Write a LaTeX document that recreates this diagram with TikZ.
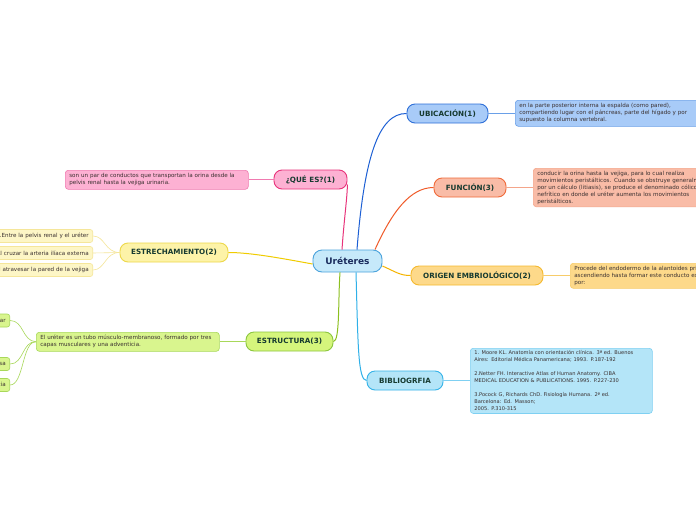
\documentclass[tikz,border=0pt]{standalone}
\usepackage{fontspec}
\setmainfont{DejaVu Sans}
\usetikzlibrary{calc}
\definecolor{headtxt}{HTML}{163A30}
\definecolor{txt}{HTML}{3A3030}
\definecolor{cfill}{HTML}{C6E9FA}\definecolor{cdraw}{HTML}{4BA3DC}\definecolor{ctxt}{HTML}{1B2D5E}
\definecolor{ubfill}{HTML}{A8CBF8}\definecolor{ubdraw}{HTML}{2E6FD8}\definecolor{ubline}{HTML}{1C5FD4}\definecolor{ubbox}{HTML}{6AA0E8}
\definecolor{fufill}{HTML}{F9BCA7}\definecolor{fudraw}{HTML}{F06A3A}\definecolor{fuline}{HTML}{F05A28}\definecolor{fubox}{HTML}{F4A58A}
\definecolor{orfill}{HTML}{FDD98A}\definecolor{ordraw}{HTML}{F5B92E}\definecolor{orline}{HTML}{F5B400}\definecolor{orbox}{HTML}{F7CC6A}
\definecolor{bifill}{HTML}{B4E5F8}\definecolor{bidraw}{HTML}{35B3E8}\definecolor{biline}{HTML}{2FB0E8}\definecolor{bibox}{HTML}{7FD0F2}
\definecolor{qufill}{HTML}{FDB1D3}\definecolor{qudraw}{HTML}{E8337A}\definecolor{quline}{HTML}{E8337A}\definecolor{qubox}{HTML}{F07AB0}
\definecolor{esfill}{HTML}{FDF3A8}\definecolor{esdraw}{HTML}{EDD84A}\definecolor{esline}{HTML}{F0CC00}\definecolor{eschf}{HTML}{FDF6C6}\definecolor{eschd}{HTML}{F5E69A}
\definecolor{stfill}{HTML}{D5F57C}\definecolor{stdraw}{HTML}{8CC63F}\definecolor{stline}{HTML}{8CC020}\definecolor{stbf}{HTML}{D9F58E}\definecolor{stbd}{HTML}{A8D85A}
\tikzset{
  hd/.style={rounded corners=8pt, draw, line width=0.9pt, font=\fontsize{7.2}{8}\selectfont\bfseries, text=headtxt, minimum height=19pt, inner sep=0pt},
  txtbox/.style={rounded corners=3pt, draw, line width=0.6pt, font=\fontsize{5.6}{7}\selectfont, align=left, inner xsep=4pt, inner ysep=2.5pt, anchor=north west, text=txt},
  chbox/.style={rounded corners=2.5pt, draw, line width=0.6pt, font=\fontsize{5.6}{7}\selectfont, align=right, inner xsep=4pt, inner ysep=0pt, minimum height=13pt, anchor=east, text=txt},
  br/.style={line width=1pt},
  sub/.style={line width=0.6pt}
}
\begin{document}
\begin{tikzpicture}[x=1pt,y=-1pt]
\useasboundingbox (0,0) rectangle (696,520);
\clip (0,0) rectangle (696,520);
\fill[white] (0,0) rectangle (696,520);
% central
\node[hd, fill=cfill, draw=cdraw, text=ctxt, font=\fontsize{9}{10}\selectfont\bfseries, minimum width=69pt, minimum height=22pt, rounded corners=9pt] (c) at (347.5,261) {Uréteres};
% headings
\node[hd, fill=ubfill, draw=ubdraw, minimum width=81pt] (ub) at (447.5,113.5) {UBICACIÓN(1)};
\node[hd, fill=fufill, draw=fudraw, minimum width=72pt] (fu) at (470,187.5) {FUNCIÓN(3)};
\node[hd, fill=orfill, draw=ordraw, minimum width=132pt] (or) at (477,275.5) {ORIGEN EMBRIOLÓGICO(2)};
\node[hd, fill=bifill, draw=bidraw, minimum width=76pt] (bi) at (405,380.5) {BIBLIOGRFIA};
\node[hd, fill=qufill, draw=qudraw, minimum width=73pt] (qu) at (310.5,179.5) {¿QUÉ ES?(1)};
\node[hd, fill=esfill, draw=esdraw, minimum width=108pt] (es) at (174,252.5) {ESTRECHAMIENTO(2)};
\node[hd, fill=stfill, draw=stdraw, minimum width=87pt] (st) at (289.5,341.5) {ESTRUCTURA(3)};
% text boxes
\node[txtbox, fill=ubfill, draw=ubbox, text width=200pt, minimum height=26pt] (ubt) at (515,100) {en la parte posterior interna la espalda (como pared),\\compartiendo lugar con el páncreas, parte del hígado y por\\supuesto la columna vertebral.};
\node[txtbox, fill=fufill, draw=fubox, text width=200pt, minimum height=38pt] (fut) at (533,168) {conducir la orina hasta la vejiga, para lo cual realiza\\movimientos peristálticos. Cuando se obstruye generalmente\\por un cálculo (litiasis), se produce el denominado cólico\\nefrítico en donde el uréter aumenta los movimientos\\peristálticos.};
\node[txtbox, fill=orfill, draw=orbox, text width=200pt, minimum height=25pt] (ort) at (570,263) {Procede del endodermo de la alantoides primitiva,\\ascendiendo hasta formar este conducto excretor\\por:};
\node[txtbox, fill=bifill, draw=bibox, font=\fontsize{5.1}{7}\selectfont, text width=174pt, minimum height=64pt] (bit) at (470,348) {1. Moore KL. Anatomía con orientación clínica. 3ª ed. Buenos\\Aires: Editorial Médica Panamericana; 1993. P.187-192\\[7pt]2.Netter FH. Interactive Atlas of Human Anatomy. CIBA\\MEDICAL EDUCATION \& PUBLICATIONS. 1995. P.227-230\\[7pt]3.Pocock G, Richards ChD. Fisiología Humana. 2ª ed.\\Barcelona: Ed. Masson;\\2005. P.310-315};
\node[txtbox, fill=qufill, draw=qubox, text width=175pt, minimum height=19pt] (qut) at (65,170) {son un par de conductos que transportan la orina desde la\\pelvis renal hasta la vejiga urinaria.};
\node[txtbox, fill=stbf, draw=stbd, text width=175pt, minimum height=19pt] (stt) at (36,332) {El uréter es un tubo músculo-membranoso, formado por tres\\capas musculares y una adventicia.};
% estrechamiento children
\node[chbox, fill=eschf, draw=eschd, text width=100pt] (e1) at (93,236) {1.Entre la pelvis renal y el uréter};
\node[chbox, fill=eschf, draw=eschd, text width=100pt] (e2) at (93,253) {2.Al cruzar la arteria ilíaca externa};
\node[chbox, fill=eschf, draw=eschd, text width=100pt] (e3) at (93,270) {3.Al atravesar la pared de la vejiga};
% estructura children
\node[chbox, fill=stbf, draw=stbd, text width=60pt] (s1) at (10,320.5) {Capa muscular};
\node[chbox, fill=stbf, draw=stbd, text width=60pt] (s2) at (10,364) {Capa mucosa};
\node[chbox, fill=stbf, draw=stbd, text width=60pt] (s3) at (10,385) {Capa adventicia};
% main branches
\draw[br, ubline] ([xshift=9.5pt]c.north) .. controls (364,160) and (378,113) .. (ub.west);
\draw[br, fuline] ([xshift=27.5pt]c.north) .. controls (392,212) and (410,187.5) .. (fu.west);
\draw[br, orline] ([yshift=-5pt]c.east) .. controls (396,272) and (400,275.5) .. (or.west);
\draw[br, biline] ([xshift=8.5pt]c.south) .. controls (358,345) and (358,380.5) .. (bi.west);
\draw[br, quline] ([xshift=-5.5pt]c.north) .. controls (344,220) and (347,200) .. ([yshift=-5pt]qu.east);
\draw[br, esline] ([yshift=-3pt]c.west) .. controls (280,258) and (250,252.5) .. (es.east);
\draw[br, stline] ([xshift=-7.5pt]c.south) .. controls (338,300) and (340,341.5) .. (st.east);
% sub connectors
\draw[sub, ubbox] (ub.east) -- (ubt.west |- ub.east);
\draw[sub, fubox] (fu.east) -- (fut.west |- fu.east);
\draw[sub, orbox] (or.east) -- (ort.west |- or.east);
\draw[sub, bibox] (bi.east) -- (bit.west |- bi.east);
\draw[sub, qubox] (qu.west) -- (qut.east |- qu.west);
\draw[sub, stbd] (st.west) -- (stt.east |- st.west);
\draw[sub, eschd] (es.west) .. controls (105,252.5) and (105,236) .. (e1.east);
\draw[sub, eschd] (es.west) -- (e2.east);
\draw[sub, eschd] (es.west) .. controls (105,252.5) and (105,270) .. (e3.east);
\draw[sub, stbd] (stt.west) .. controls (22,341) and (24,320.5) .. (s1.east);
\draw[sub, stbd] (stt.west) .. controls (22,341) and (24,364) .. (s2.east);
\draw[sub, stbd] (stt.west) .. controls (22,341) and (24,385) .. (s3.east);
\end{tikzpicture}
\end{document}
